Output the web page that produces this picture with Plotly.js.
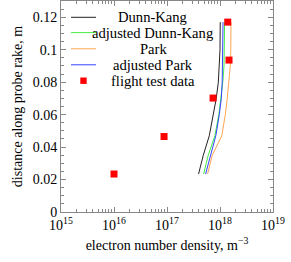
<!DOCTYPE html>
<html>
<head>
<meta charset="utf-8">
<script src="https://cdn.plot.ly/plotly-3.0.1.min.js"></script>
<style>html,body{margin:0;padding:0;background:#fff;}#chart{width:291px;height:262px;}</style>
</head>
<body>
<div id="chart"></div>
<script>
// distance along probe rake (m) for model curves
var modelY = [0.0234, 0.035, 0.047, 0.06, 0.07, 0.08, 0.09, 0.1, 0.117];
// electron number density (m^-3)
var dunnKang = [3.94e17, 4.84e17, 6.28e17, 7.5e17, 8.5e17, 9.3e17, 9.8e17, 1.0e18, 1.01e18];
var adjDunnKang = [4.91e17, 6.0e17, 8.0e17, 9.5e17, 1.035e18, 1.13e18, 1.19e18, 1.21e18, 1.22e18];
var park = [5.83e17, 7.16e17, 1.08e18, 1.26e18, 1.37e18, 1.47e18, 1.56e18, 1.60e18, 1.61e18];
var adjPark = [5.35e17, 6.56e17, 8.34e17, 9.7e17, 1.06e18, 1.10e18, 1.12e18, 1.13e18, 1.14e18];
// flight test data
var flightX = [1.0e16, 8.8e16, 7.4e17, 1.48e18, 1.4e18];
var flightY = [0.0234, 0.0465, 0.0702, 0.0936, 0.117];
// series names
var seriesNames = ['Dunn-Kang', 'adjusted Dunn-Kang', 'Park', 'adjusted Park', 'flight test data'];
// axis ticks
var xTickVals = [1e15, 1e16, 1e17, 1e18, 1e19];
var xTickText = ['10<sup>15</sup>', '10<sup>16</sup>', '10<sup>17</sup>', '10<sup>18</sup>', '10<sup>19</sup>'];
var xMinorMult = [2, 3, 4, 5, 6, 7, 8, 9];
var yTickVals = [0, 0.02, 0.04, 0.06, 0.08, 0.1, 0.12];
var yTickText = ['0', '0.02', '0.04', '0.06', '0.08', '0.1', '0.12'];

var xMinorVals = [];
xTickVals.slice(0, -1).forEach(function(d){ xMinorMult.forEach(function(m){ xMinorVals.push(d * m); }); });

var colors = ['#222222', '#44ee44', '#ffa550', '#3344ff', '#ff0000'];
var traces = [
  {x: dunnKang, y: modelY, mode: 'lines', name: seriesNames[0], line: {color: colors[0], width: 1}},
  {x: adjDunnKang, y: modelY, mode: 'lines', name: seriesNames[1], line: {color: colors[1], width: 1}},
  {x: park, y: modelY, mode: 'lines', name: seriesNames[2], line: {color: colors[2], width: 1}},
  {x: adjPark, y: modelY, mode: 'lines', name: seriesNames[3], line: {color: colors[3], width: 1}},
  {x: flightX, y: flightY, mode: 'markers', name: seriesNames[4], marker: {color: colors[4], symbol: 'square', size: 7}}
];

// legend drawn in paper coordinates (decoration, not data)
var W = 291, H = 262, mL = 61, mR = 18, mT = 1, mB = 50;
var pw = W - mL - mR, ph = H - mT - mB;
function px2x(p){ return (p - mL) / pw; }
function py2y(p){ return (H - mB - p) / ph; }
var legRowPx = [17.3, 32.6, 48.8, 64.8, 80.7];
var shapes = [], annotations = [];
var font = {family: 'Liberation Serif, Times New Roman, serif', size: 14, color: '#000'};
var legFont = {family: 'Liberation Serif, Times New Roman, serif', size: 14.6, color: '#000'};
seriesNames.forEach(function(n, i){
  var yy = py2y(legRowPx[i]);
  if (i < 4) {
    shapes.push({type: 'line', xref: 'paper', yref: 'paper', x0: px2x(71), x1: px2x(96), y0: yy, y1: yy, line: {color: colors[i], width: 1}});
  } else {
    shapes.push({type: 'rect', xref: 'paper', yref: 'paper', x0: px2x(80.3), x1: px2x(86.7), y0: py2y(83.9), y1: py2y(77.5), fillcolor: colors[i], line: {width: 0}});
  }
  annotations.push({xref: 'paper', yref: 'paper', x: px2x(153), y: yy, xanchor: 'center', yanchor: 'middle', text: n, showarrow: false, font: legFont});
});

var layout = {
  width: W, height: H,
  margin: {l: mL, r: mR, t: mT, b: mB, pad: 0},
  paper_bgcolor: '#fff', plot_bgcolor: '#fff',
  font: font,
  showlegend: false,
  shapes: shapes,
  annotations: annotations,
  xaxis: {
    type: 'log', range: [15, 19],
    tickvals: xTickVals, ticktext: xTickText,
    ticks: 'inside', ticklen: 5, tickcolor: '#888', tickwidth: 1,
    minor: {ticks: 'inside', ticklen: 3, tickcolor: '#888', tickvals: xMinorVals, showgrid: false},
    showline: true, linecolor: '#888', linewidth: 1, mirror: 'ticks',
    showgrid: false, zeroline: false,
    title: {text: 'electron number density, m<sup>\u22123</sup>', font: font, standoff: 8},
    tickfont: font
  },
  yaxis: {
    range: [0, 0.13],
    tickvals: yTickVals, ticktext: yTickText,
    ticks: 'inside', ticklen: 5, tickcolor: '#888', tickwidth: 1,
    minor: {ticks: 'inside', ticklen: 3, tickcolor: '#888', dtick: 0.005, showgrid: false},
    showline: true, linecolor: '#888', linewidth: 1, mirror: 'ticks',
    showgrid: false, zeroline: false,
    title: {text: 'distance along probe rake, m', font: font, standoff: 6},
    tickfont: font
  }
};
Plotly.newPlot('chart', traces, layout, {displayModeBar: false, staticPlot: true});
</script>
</body>
</html>
